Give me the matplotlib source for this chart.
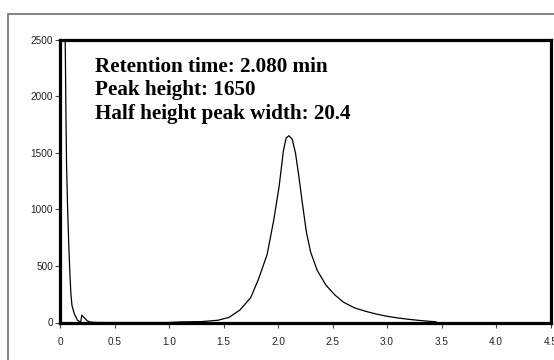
import matplotlib.pyplot as plt
from matplotlib.patches import Rectangle

# chromatogram (time in min, detector signal)
time = [0.045, 0.05, 0.055, 0.06, 0.07, 0.08, 0.09, 0.10, 0.11, 0.13, 0.16, 0.19,
        0.20, 0.22, 0.25, 0.28, 0.35, 1.00, 1.10, 1.30, 1.45, 1.55, 1.65, 1.75,
        1.82, 1.90, 1.96, 2.01, 2.05, 2.075, 2.10, 2.13, 2.16, 2.19, 2.22, 2.26,
        2.30, 2.36, 2.44, 2.52, 2.60, 2.70, 2.80, 2.90, 3.00, 3.10, 3.20, 3.30,
        3.40, 3.45]
signal = [2700, 2300, 1800, 1400, 1000, 700, 450, 250, 150, 80, 20, 2,
          65, 45, 15, 3, 0, 0, 5, 8, 20, 45, 110, 220,
          380, 600, 900, 1200, 1520, 1630, 1650, 1620, 1500, 1300, 1080, 800,
          620, 460, 330, 245, 180, 130, 100, 75, 55, 40, 28, 18,
          10, 6]

xticks = [0, 0.5, 1.0, 1.5, 2.0, 2.5, 3.0, 3.5, 4.0, 4.5]
xtick_labels = ['0', '0.5', '1.0', '1.5', '2.0', '2.5', '3.0', '3.5', '4.0', '4.5']
yticks = [0, 500, 1000, 1500, 2000, 2500]

notes = ['Retention time: 2.080 min', 'Peak height: 1650',
         'Half height peak width: 20.4']

W, H = 554, 360
fig = plt.figure(figsize=(W / 100, H / 100), dpi=100)

# outer grey frame
fig.patches.append(Rectangle((8 / W, -0.1), 1.1, (H - 14) / H + 0.1,
                             transform=fig.transFigure, fill=False,
                             edgecolor='#707070', linewidth=1.2))

ax = fig.add_axes([60 / W, (H - 322.5) / H, (550.5 - 60) / W, (322.5 - 39.5) / H])
ax.plot(time, signal, color='black', lw=0.9)
ax.set_xlim(0, 4.5)
ax.set_ylim(0, 2500)

for s in ax.spines.values():
    s.set_linewidth(2.3)
    s.set_color('black')

ax.set_xticks(xticks)
ax.set_xticklabels(xtick_labels)
ax.set_yticks(yticks)
ax.tick_params(axis='both', direction='out', length=3.5, width=0.8,
               labelsize=7.2, labelcolor='#222222', color='#444444')
ax.tick_params(axis='x', pad=7)
ax.tick_params(axis='y', pad=1.5)
for lab in ax.get_xticklabels() + ax.get_yticklabels():
    lab.set_family('Liberation Sans')

for i, txt in enumerate(notes):
    fig.text(95 / W, (H - 72 - 23.5 * i) / H, txt, family='Liberation Serif',
             fontweight='bold', fontsize=15.2, va='baseline', ha='left')

fig.savefig('out.png', dpi=100)
